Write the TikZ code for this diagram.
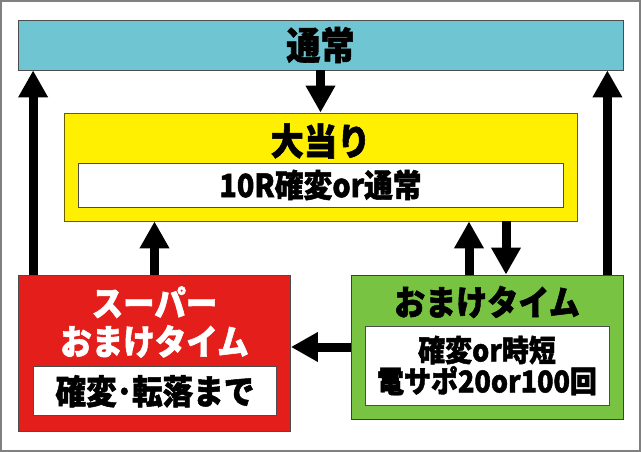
\documentclass[tikz,border=0pt]{standalone}
\usepackage{fontspec}
\setmainfont{Noto Sans CJK JP}[FakeStretch=0.9,BoldFeatures={FakeBold=1.5}]
\usetikzlibrary{arrows.meta}
\definecolor{tsujocol}{RGB}{111,197,210}
\definecolor{ataricol}{RGB}{255,239,0}
\definecolor{supercol}{RGB}{228,30,26}
\definecolor{omakecol}{RGB}{120,196,66}
\newcommand{\fs}[2]{\fontsize{#1}{#2}\selectfont\bfseries}
\begin{document}
\begin{tikzpicture}[x=1pt,y=-1pt,
    box/.style={draw=black!70,line width=0.8pt,inner sep=0pt,align=center},
    whitebox/.style={box,fill=white},
    bigarrow/.style={line width=9pt,-{Triangle[width=28pt,length=27pt]}}]
          \useasboundingbox (0,0) rectangle (641,452);
          \draw [black!50,line width=2.5pt] (0.8,1) rectangle (639.8,450.8);
          \node [box,fill=tsujocol,minimum width=605pt,minimum height=50pt,font=\fs{38}{40}] (tsujo) at (320.5,45) {通常};
          \node [box,fill=ataricol,draw=black!60!ataricol,minimum width=513pt,minimum height=108pt] (atari) at (320.5,167) {};
          \node [font=\fs{37}{40}] (ataritxt) at (320.5,141) {大当り};
          \node [whitebox,minimum width=485pt,minimum height=44pt,font=\fs{32}{34}] (atariin) at (320.5,185) {10R確変or通常};
          \node [box,fill=supercol,minimum width=272pt,minimum height=156pt] (super) at (154.5,353) {};
          \node [align=center,text=white,font=\fs{35}{38.5}] (supertxt) at (154.5,322) {スーパー\\おまけタイム};
          \node [whitebox,minimum width=243pt,minimum height=49pt,font=\fs{34}{36}] (superin) at (155,391.3) {確変･転落まで};
          \node [box,fill=omakecol,draw=black!60!omakecol,minimum width=272pt,minimum height=144pt] (omake) at (487,347) {};
          \node [font=\fs{34.5}{36}] (omaketxt) at (487,302) {おまけタイム};
          \node [whitebox,minimum width=244pt,minimum height=79pt,font=\fs{30}{31}] (omakein) at (487,365.5) {確変or時短\\電サポ20or100回};
          \draw [bigarrow] (tsujo) -- (atari);
          \draw [bigarrow] ([xshift=15pt]super.north west) -- ([xshift=15pt]super.north west |- tsujo.south);
          \draw [bigarrow] ([xshift=-16pt]omake.north east) -- ([xshift=-16pt]omake.north east |- tsujo.south);
          \draw [bigarrow] (super.north) -- (super.north |- atari.south);
          \draw [bigarrow] ([xshift=-18pt]omake.north) -- ([xshift=-18pt]omake.north |- atari.south);
          \draw [bigarrow] ([xshift=19pt]omake.north |- atari.south) -- ([xshift=19pt]omake.north);
          \draw [bigarrow] (omake.west) -- (super.east |- omake.west);
\end{tikzpicture}
\end{document}
